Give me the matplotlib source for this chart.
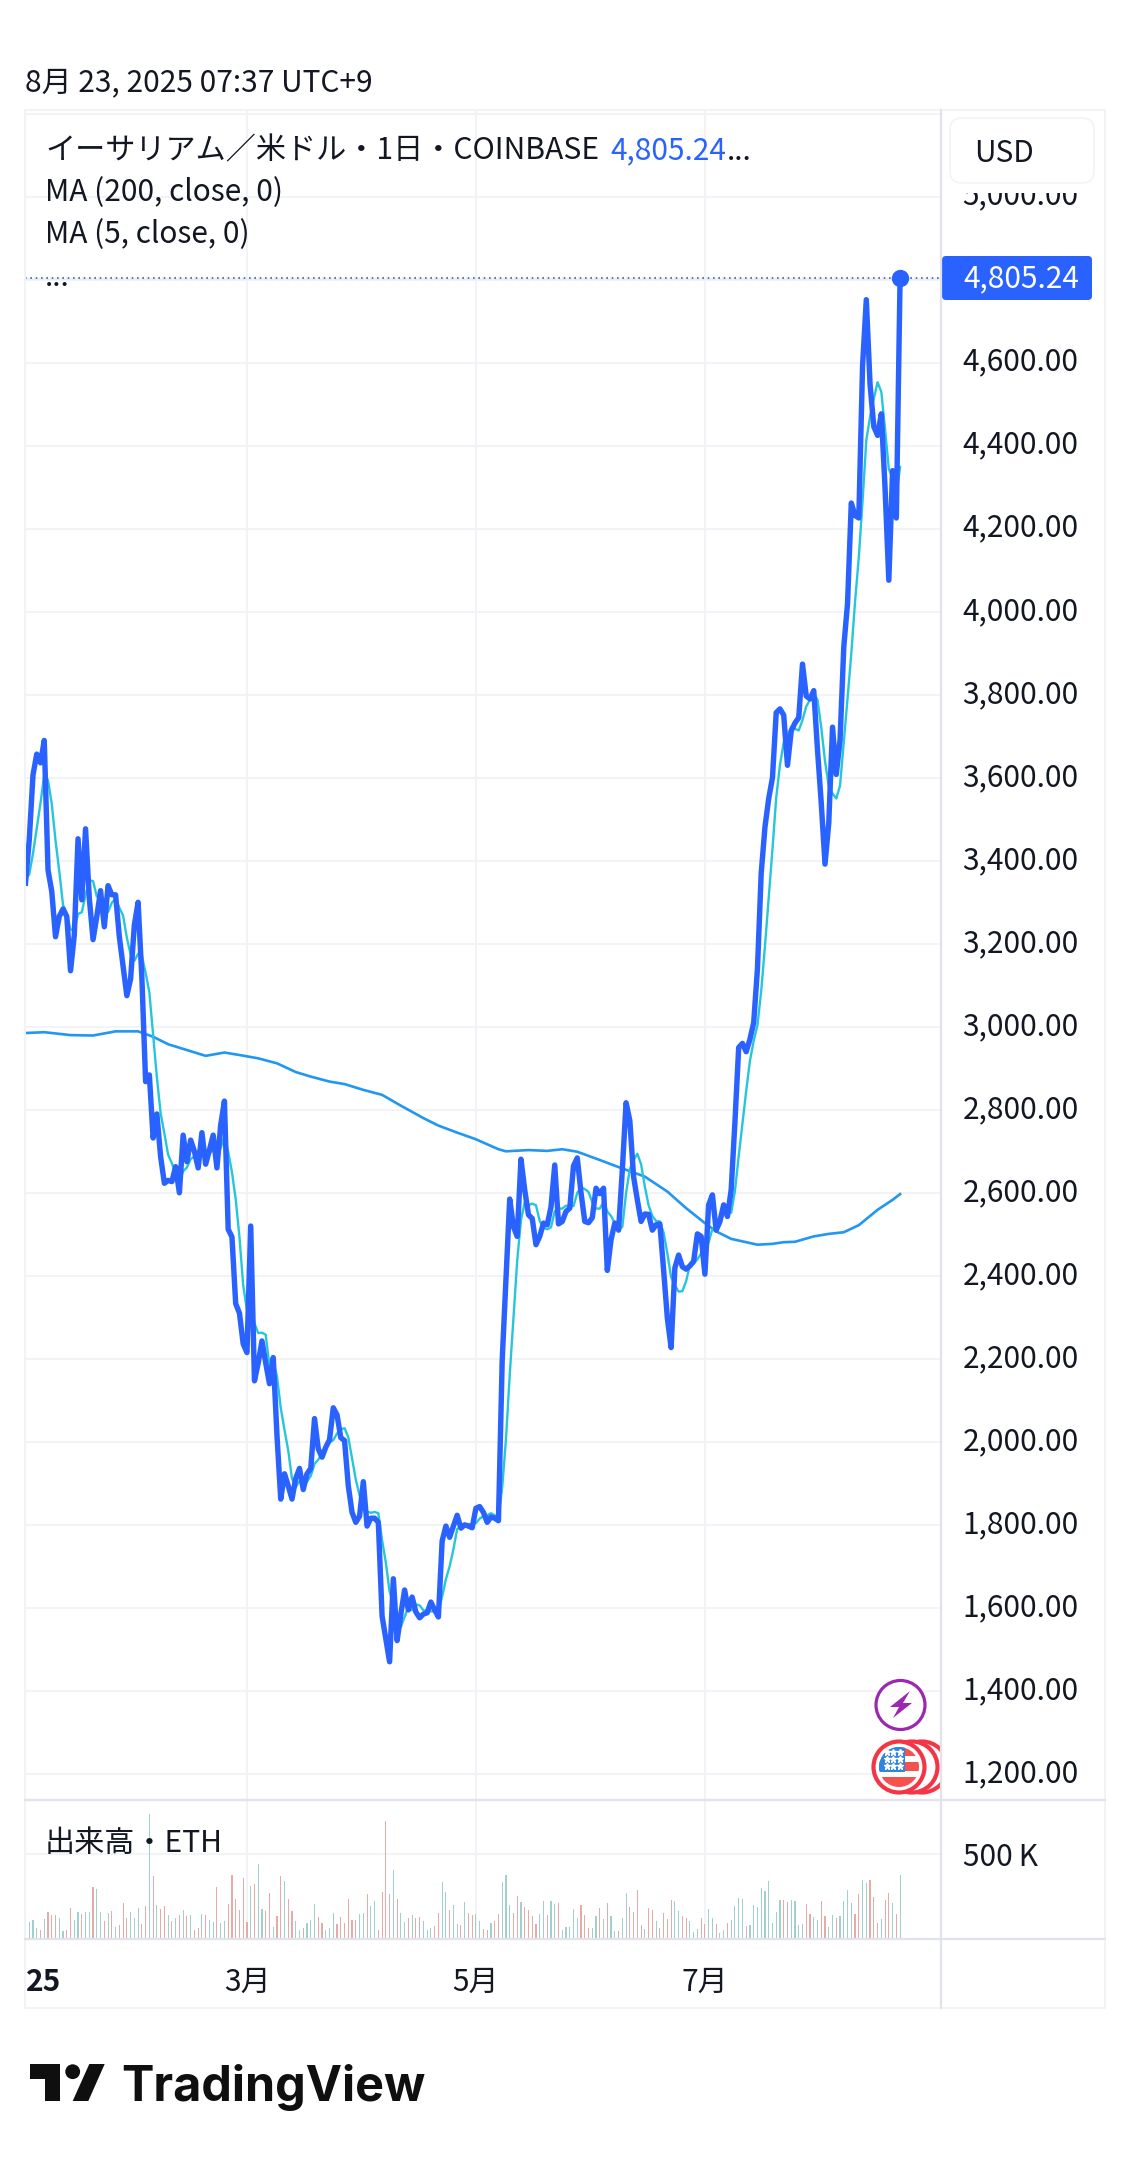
import numpy as np
import matplotlib
matplotlib.use("Agg")
import matplotlib.pyplot as plt
from matplotlib.patches import Circle, FancyBboxPatch, Polygon, Rectangle
from matplotlib.transforms import ScaledTranslation

plt.rcParams['font.family'] = ['Noto Sans CJK JP', 'DejaVu Sans']

# daily closes, 1 Jan - 22 Aug 2025
close = [3346, 3450, 3607, 3657, 3636, 3690, 3378, 3326, 3217, 3266, 3284, 3266, 3135, 3221, 3453, 3306, 3477, 3310, 3210, 3266,
         3328, 3241, 3340, 3318, 3318, 3217, 3145, 3075, 3115, 3245, 3300, 3120, 2868, 2884, 2732, 2790, 2687, 2623, 2630, 2627,
         2663, 2600, 2739, 2675, 2727, 2700, 2660, 2745, 2669, 2703, 2739, 2660, 2763, 2821, 2512, 2494, 2333, 2310, 2236, 2215,
         2520, 2147, 2190, 2243, 2190, 2140, 2203, 2015, 1862, 1923, 1894, 1862, 1912, 1936, 1885, 1923, 1936, 2056, 1983, 1963,
         1987, 2005, 2082, 2065, 2010, 2003, 1894, 1830, 1806, 1821, 1904, 1797, 1816, 1816, 1806, 1580, 1525, 1470, 1670, 1521,
         1585, 1643, 1595, 1626, 1590, 1576, 1585, 1588, 1614, 1595, 1578, 1761, 1797, 1770, 1797, 1823, 1792, 1800, 1797, 1793,
         1840, 1844, 1830, 1806, 1819, 1816, 1810, 2197, 2390, 2585, 2518, 2495, 2681, 2607, 2547, 2538, 2475, 2495, 2527, 2523,
         2566, 2667, 2525, 2531, 2555, 2563, 2665, 2684, 2600, 2531, 2528, 2540, 2611, 2598, 2611, 2413, 2487, 2527, 2510, 2655,
         2817, 2774, 2639, 2583, 2531, 2549, 2548, 2510, 2523, 2525, 2414, 2298, 2227, 2419, 2450, 2422, 2416, 2424, 2435, 2501,
         2495, 2404, 2571, 2595, 2510, 2531, 2571, 2543, 2607, 2770, 2950, 2960, 2940, 2970, 3010, 3140, 3370, 3481, 3550, 3600,
         3757, 3766, 3751, 3630, 3713, 3732, 3745, 3874, 3797, 3790, 3810, 3667, 3539, 3392, 3491, 3722, 3608, 3690, 3915, 4020,
         4262, 4232, 4226, 4592, 4752, 4548, 4446, 4425, 4477, 4297, 4076, 4340, 4226, 4805.24]

ma5 = [3357, 3367, 3418, 3478, 3539, 3608, 3594, 3537, 3449, 3375, 3294, 3272, 3234, 3234, 3272, 3276, 3318, 3353, 3351, 3314,
       3318, 3271, 3277, 3299, 3309, 3287, 3268, 3215, 3174, 3159, 3176, 3171, 3130, 3083, 2981, 2879, 2792, 2743, 2692, 2671,
       2646, 2629, 2652, 2661, 2681, 2688, 2700, 2701, 2700, 2695, 2703, 2703, 2707, 2737, 2699, 2650, 2585, 2494, 2377, 2318,
       2323, 2286, 2262, 2263, 2258, 2182, 2193, 2158, 2082, 2029, 1979, 1911, 1891, 1905, 1898, 1904, 1918, 1947, 1957, 1972,
       1985, 1999, 2004, 2020, 2030, 2033, 2011, 1960, 1909, 1871, 1851, 1832, 1829, 1831, 1828, 1763, 1709, 1639, 1610, 1553,
       1554, 1578, 1603, 1594, 1608, 1606, 1594, 1593, 1591, 1592, 1592, 1627, 1669, 1700, 1741, 1790, 1796, 1796, 1802, 1801,
       1804, 1815, 1821, 1823, 1828, 1823, 1816, 1890, 2006, 2160, 2300, 2437, 2534, 2577, 2570, 2574, 2570, 2532, 2516, 2512,
       2517, 2556, 2562, 2562, 2569, 2568, 2568, 2600, 2613, 2609, 2602, 2577, 2562, 2562, 2578, 2555, 2544, 2527, 2510, 2518,
       2599, 2657, 2679, 2694, 2669, 2615, 2570, 2544, 2532, 2531, 2504, 2454, 2397, 2377, 2362, 2363, 2387, 2426, 2429, 2440,
       2454, 2452, 2481, 2513, 2515, 2522, 2556, 2550, 2552, 2604, 2688, 2766, 2845, 2918, 2966, 3004, 3086, 3194, 3310, 3428,
       3552, 3631, 3685, 3701, 3723, 3718, 3714, 3739, 3772, 3788, 3803, 3788, 3721, 3640, 3580, 3562, 3550, 3581, 3685, 3791,
       3899, 4024, 4131, 4266, 4413, 4470, 4513, 4553, 4530, 4439, 4344, 4323, 4283, 4349]

# MA 200 is smooth, so only read at these days
ma200_days = [0, 5, 12, 18, 24, 30, 34, 38, 48, 53, 57, 62, 67, 72, 76, 81, 85, 90, 95, 100, 106, 110, 115, 120, 126, 128, 134, 139,
              143, 147, 153, 158, 165, 171, 176, 181, 184, 188, 195, 199, 202, 205, 210, 214, 218, 222, 227, 231, 233]
ma200 = [2985, 2987, 2980, 2979, 2989, 2989, 2976, 2958, 2930, 2938, 2932, 2924, 2912, 2891, 2880, 2868, 2862, 2848, 2836, 2810,
         2780, 2762, 2745, 2729, 2705, 2700, 2703, 2701, 2705, 2699, 2679, 2662, 2639, 2603, 2563, 2527, 2507, 2489, 2475, 2477,
         2481, 2482, 2495, 2501, 2505, 2522, 2559, 2583, 2597]

# thousands of ETH
volume = [120, 94, 106, 60, 48, 114, 156, 138, 138, 120, 42, 48, 180, 108, 156, 144, 156, 156, 306, 294, 156, 102, 150, 162, 66, 78,
          210, 120, 156, 120, 180, 84, 192, 738, 366, 198, 174, 192, 138, 102, 120, 138, 168, 132, 138, 48, 60, 144, 138, 108, 96,
          306, 90, 102, 204, 372, 234, 168, 354, 96, 312, 324, 438, 174, 162, 270, 66, 132, 366, 342, 234, 162, 102, 48, 60, 90,
          108, 204, 126, 90, 48, 60, 150, 84, 126, 90, 234, 108, 108, 144, 150, 264, 192, 222, 48, 276, 696, 264, 402, 234, 150, 96,
          120, 138, 120, 126, 102, 48, 60, 72, 150, 336, 276, 168, 198, 84, 78, 216, 150,
          138, 144, 102, 54, 48, 90, 102, 144, 336, 372, 198, 150, 252, 216, 186, 168, 132, 84, 144, 222, 138, 222, 204, 210, 48, 66,
          66, 174, 120, 198, 138, 60, 60, 132, 180, 114, 210, 132, 42, 42, 120, 270, 186, 156, 288, 78, 54, 180, 168, 102, 60, 150,
          114, 228, 222, 162, 132, 120, 102, 36, 54, 120, 84, 174, 120, 84, 30, 48, 90, 108, 192, 240, 234, 72, 78, 198, 186, 300,
          282, 342, 90, 156, 228, 228, 216, 228, 222, 78, 84, 204, 144, 126, 108, 222, 132, 66, 138, 120, 132, 222, 288, 210, 144,
          264, 348, 330, 348, 246, 90, 114, 228, 270, 210, 144, 372]

# colour of each volume bar, g = up day, r = down day
volume_side = ("ggggr grrrg grrgg rggrg grgrg rrrgg grrgr grrgr grgrg rrgrg grggr rrrrr grggr rgrrg rrggr gggrr gggrr rrrrg grggr "
               "rrrgr ggrgr rgggr rggrg grgr "
               "r "
               "ggrrg rrggg rrgrr rrggr ggrgg gggrr rggrg rggrg grrrr grrgr rrrgg rrggg rrggr ggrgg ggrgg ggggg ggrrg gggrr ggrrg "
               "grggg grrgg rrrgr rgrg").replace(" ", "")

assert len(close) == len(ma5) == len(volume) == len(volume_side), (len(close), len(ma5), len(volume), len(volume_side))

# tick positions, day numbers of the month starts
tick_days = [0, 59, 120, 181]
tick_labels = ['25', '3月', '5月', '7月']
price_ticks = list(range(1200, 5400, 200))
# 4,800 sits behind the last price tag, 5,200 behind the USD box
price_labels = [f"{p:,.2f}" if p not in (4800, 5200) else "" for p in price_ticks]

GRID = '#f1f3f6'
SEP = '#e0e3eb'
TXT = '#131722'
BLUE = '#2962ff'
W, H = 1130, 2159


def axes_px(x0, y0, x1, y1, **kw):
    return fig.add_axes([x0 / W, 1 - y1 / H, (x1 - x0) / W, (y1 - y0) / H], **kw)


fig = plt.figure(figsize=(W / 100, H / 100), dpi=100, facecolor='white')

days = np.arange(len(close))
xlim = (-0.13, 243.9)

# price pane
ax = axes_px(25, 110, 941, 1800)
ax.plot(ma200_days, ma200, color='#2196f3', lw=1.9, zorder=3)
ax.plot(days, ma5, color='#26c6da', lw=1.7, zorder=4)
ax.plot(days, close, color=BLUE, lw=3.9, zorder=5, solid_joinstyle='round')
ax.axhline(close[-1] - 3, color='#e6edfd', lw=1.2, zorder=2)
ax.axhline(close[-1], color='#3f5fa8', lw=1.2, ls=(0, (1, 2.2)), zorder=2)
ax.plot(days[-1], close[-1], 'o', color=BLUE, ms=11.5, zorder=6)
ax.set_xlim(*xlim)
ax.set_ylim(1137, 5209)
ax.set_yticks(price_ticks)
ax.set_yticklabels(price_labels)
ax.yaxis.tick_right()
ax.tick_params(axis='y', length=0, pad=15.5, labelsize=21.5, labelcolor=TXT)
ax.set_xticks(tick_days)
ax.tick_params(axis='x', length=0, labelbottom=False)
ax.grid(True, color=GRID, lw=1.4)
ax.set_axisbelow(True)
up = ScaledTranslation(0, 4 / 100, fig.dpi_scale_trans)
for lab in ax.get_yticklabels():
    lab.set_transform(lab.get_transform() + up)

# volume pane
vax = axes_px(25, 1800, 941, 1939)
bar_colors = ['#a0cfcd' if s == 'g' else '#e8aaa6' for s in volume_side]
vax.bar(days, volume, width=0.3, color=bar_colors, zorder=3)
vax.set_xlim(*xlim)
vax.set_ylim(-6, 821)
vax.set_yticks([500])
vax.set_yticklabels(['500\u2009K'])
vax.yaxis.tick_right()
vax.tick_params(axis='y', length=0, pad=15.5, labelsize=21.5, labelcolor=TXT)
vax.set_xticks(tick_days)
vax.set_xticklabels(tick_labels)
vax.tick_params(axis='x', length=0, pad=20, labelsize=21.5, labelcolor=TXT)
vax.get_xticklabels()[0].set_ha('left')
vax.get_xticklabels()[0].set_fontweight('bold')
vax.grid(True, color=GRID, lw=1.4)
vax.set_axisbelow(True)

for a in (ax, vax):
    for name, sp in a.spines.items():
        sp.set_visible(False)

# overlay in pixels: frame, legend texts, icons, logo
ov = fig.add_axes([0, 0, 1, 1], facecolor='none', zorder=10)
ov.set_xlim(0, W)
ov.set_ylim(H, 0)
ov.axis('off')

ov.add_patch(Rectangle((25, 110), 1080, 1898, fill=False, ec=GRID, lw=1.4))
ov.plot([941, 941], [110, 2008], color=SEP, lw=1.6)
ov.plot([25, 1105], [1800, 1800], color=SEP, lw=1.6)
ov.plot([25, 1105], [1939, 1939], color=SEP, lw=1.6)

ov.text(25, 83, '8月 23, 2025 07:37 UTC+9', fontsize=21.5, color=TXT, va='center')
ov.text(45, 151, 'イーサリアム／米ドル・1日・COINBASE', fontsize=21.7, color=TXT, va='center')
ov.text(610, 151, '4,805.24', fontsize=21.5, color=BLUE, va='center')
ov.text(727, 151, '...', fontsize=21.5, color=TXT, va='center')
ov.text(45, 193, 'MA (200, close, 0)', fontsize=21.5, color=TXT, va='center')
ov.text(45, 235, 'MA (5, close, 0)', fontsize=21.5, color=TXT, va='center')
ov.text(45, 277, '...', fontsize=21.5, color=TXT, va='center')
ov.text(45, 1843, '出来高・ETH', fontsize=21.7, color=TXT, va='center')

# USD box hides the top of the 5,000 label
ov.add_patch(Rectangle((945, 112), 155, 81, fc='white', ec='none'))
ov.add_patch(FancyBboxPatch((950, 118), 144, 65, boxstyle='round,pad=0,rounding_size=12', fc='white', ec=GRID, lw=1.2))
ov.text(974, 153, 'USD', fontsize=21.5, color=TXT, va='center')

ov.add_patch(FancyBboxPatch((942, 256), 150, 44, boxstyle='round,pad=0,rounding_size=4', fc=BLUE, ec='none'))
ov.text(963, 279, '4,805.24', fontsize=21.5, color='white', va='center')

# lightning icon
ov.add_patch(Circle((900.5, 1705), 24.5, fc='white', ec='#9c27b0', lw=2.3))
ov.add_patch(Polygon([[910, 1691], [890, 1707], [899, 1707], [893, 1718], [912, 1703], [903, 1703]], fc='#9c27b0', ec='none'))

# flag coins, the back ones stop at the price scale
clip = Rectangle((25, 1700), 916, 100, transform=ov.transData)
for cx in (922, 912):
    c = Circle((cx, 1767), 25.5, fc='white', ec='#f23645', lw=3.0)
    ov.add_patch(c)
    c.set_clip_path(clip)
ov.add_patch(Circle((899, 1767), 25.5, fc='white', ec='#f23645', lw=3.0))
flag_clip = Circle((899, 1767), 20, transform=ov.transData)
for yb, yh in ((1747, 9), (1762, 9), (1777, 10)):
    r = Rectangle((875, yb), 50, yh, fc='#f5524f', ec='none')
    ov.add_patch(r)
    r.set_clip_path(flag_clip)
r = Rectangle((878, 1746), 27, 26, fc='#2e86de', ec='none')
ov.add_patch(r)
r.set_clip_path(flag_clip)
for sx in (887, 893, 900):
    ov.plot([sx, sx, sx], [1752, 1759, 1766], ls='', marker='*', ms=4.5, color='white')

# logo
ov.add_patch(Polygon([[30, 2064], [60, 2064], [60, 2101], [45.3, 2101], [45.3, 2079], [30, 2079]], fc='#0f0f0f', ec='none'))
ov.add_patch(Circle((72.7, 2071.7), 7.4, fc='#0f0f0f', ec='none'))
ov.add_patch(Polygon([[89.3, 2064], [104.7, 2064], [88.3, 2101], [72.7, 2101]], fc='#0f0f0f', ec='none'))
ov.text(121, 2101, 'TradingView', family='Inter', fontweight='bold', fontsize=35, color='#0f0f0f', va='baseline')

plt.savefig('out.png', dpi=100, facecolor='white')
